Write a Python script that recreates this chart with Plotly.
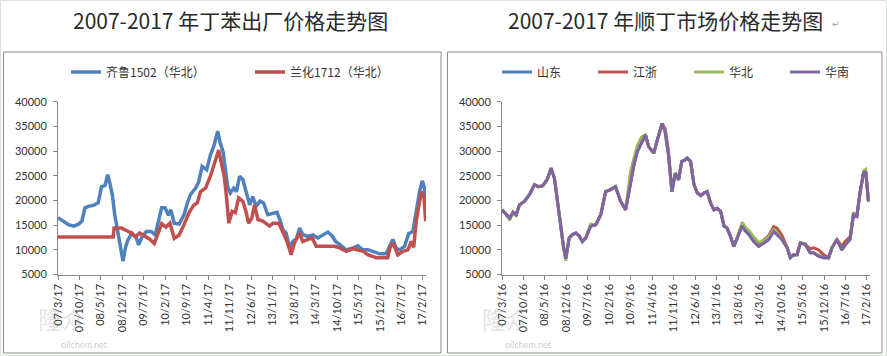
import plotly.graph_objects as go

# ---------------- data ----------------
# x values: months elapsed since 2007-03-17 (tick labels every 7 months)
TICK_M = [0, 7, 14, 21, 28, 35, 42, 49, 56, 63, 70, 77, 84, 91, 98, 105, 112, 119]
LEFT_TICKS = ["07/3/17", "07/10/17", "08/5/17", "08/12/17", "09/7/17", "10/2/17", "10/9/17",
              "11/4/17", "11/11/17", "12/6/17", "13/1/17", "13/8/17", "14/3/17", "14/10/17",
              "15/5/17", "15/12/17", "16/7/17", "17/2/17"]
RIGHT_TICKS = ["07/3/16", "07/10/16", "08/5/16", "08/12/16", "09/7/16", "10/2/16", "10/9/16",
               "11/4/16", "11/11/16", "12/6/16", "13/1/16", "13/8/16", "14/3/16", "14/10/16",
               "15/5/16", "15/12/16", "16/7/16", "17/2/16"]

# 齐鲁1502（华北）
QILU_M = [0.0, 1.3, 3.4, 5.1, 6.7, 7.8, 8.8, 9.9, 11.5, 13.1,
          14.2, 15.3, 16.2, 16.9, 17.7, 18.5, 19.6, 20.5, 21.2, 22.0,
          22.8, 24.1, 25.5, 26.3, 27.3, 28.8, 30.4, 31.7, 32.7, 33.8,
          34.9, 36.0, 36.8, 37.9, 39.5, 41.1, 42.2, 43.2, 44.9, 45.9,
          47.0, 48.5, 49.7, 50.8, 52.1, 52.9, 53.8, 54.6, 55.4, 56.2,
          57.3, 58.2, 59.2, 60.3, 61.4, 62.5, 63.5, 64.6, 65.9, 67.0,
          68.4, 70.1, 71.4, 72.5, 73.3, 74.4, 75.5, 76.6, 77.7, 78.8,
          79.8, 81.5, 83.1, 84.7, 86.4, 88.0, 89.4, 90.5, 91.8, 94.0,
          96.2, 97.8, 99.4, 101.0, 102.7, 104.8, 107.0, 108.3, 109.2, 110.3,
          111.4, 113.0, 114.4, 115.7, 116.8, 117.9, 118.8, 119.5, 119.9]
QILU_V = [16500, 16000, 15100, 14800, 15200, 15800, 18500, 18800, 19000, 19500,
          22800, 23000, 25200, 23500, 21200, 17100, 13000, 9700, 7700, 10500,
          12000, 13400, 12500, 11000, 12500, 13700, 13700, 13000, 15500, 18500,
          18500, 17000, 18100, 15400, 15200, 17100, 19500, 21200, 22500, 23800,
          26900, 26200, 29200, 31000, 34000, 31600, 30000, 25900, 22500, 21500,
          22500, 21800, 24900, 24200, 21800, 19100, 20800, 18800, 19900, 19500,
          17100, 17400, 17600, 15800, 14100, 13400, 10400, 11700, 12200, 14400,
          13100, 12700, 13000, 12400, 13000, 13600, 12800, 11700, 11100, 10000,
          10400, 10800, 10000, 10000, 9700, 9200, 9200, 10700, 12100, 10300,
          10000, 10700, 13300, 13700, 17800, 21800, 24000, 22500, 20500]

# 兰化1712（华北）
LANHUA_M = [0.0, 18.0, 18.3, 20.7, 22.3, 23.9, 25.2, 26.6, 28.2, 29.8,
            31.4, 32.5, 33.8, 35.2, 36.5, 37.9, 39.5, 41.1, 42.7, 44.2,
            45.4, 46.5, 48.1, 49.7, 51.4, 52.4, 53.3, 54.3, 54.9, 55.7,
            56.8, 57.8, 58.9, 60.3, 61.4, 62.1, 63.2, 64.1, 65.2, 66.8,
            69.0, 70.1, 72.0, 73.0, 74.2, 75.2, 76.0, 77.1, 78.8, 79.8,
            81.5, 82.9, 84.2, 90.2, 91.8, 94.0, 96.2, 98.3, 99.6, 101.0,
            103.8, 107.5, 108.3, 109.2, 110.8, 112.5, 114.1, 115.2, 116.0, 116.8,
            118.5, 119.3, 119.9]
LANHUA_V = [12600, 12600, 14400, 14400, 13900, 13400, 12600, 13400, 12800, 12200,
            11300, 13000, 15300, 14600, 15400, 12300, 13000, 15100, 17500, 19000,
            19500, 21800, 22500, 24900, 28200, 30200, 27500, 24500, 21000, 15400,
            17800, 17500, 20500, 19800, 17500, 15400, 16400, 19100, 16100, 15800,
            14800, 15400, 15400, 14100, 12400, 10700, 9000, 11400, 13400, 11700,
            12000, 12400, 10700, 10700, 10400, 9700, 10200, 10000, 9700, 9000,
            8400, 8400, 10500, 11400, 9000, 9700, 10000, 11700, 10500, 15800,
            21800, 21000, 15800]

# 顺丁 market prices (shared x positions)
RIGHT_M = [0.0, 1.1, 2.5, 3.6, 4.6, 5.7, 7.3, 9.0, 10.6, 11.9,
           13.3, 14.7, 16.0, 17.1, 18.1, 19.2, 20.1, 20.8, 21.9, 23.0,
           24.1, 25.2, 26.2, 27.3, 28.9, 30.6, 32.2, 33.8, 35.4, 37.0,
           38.7, 40.3, 41.9, 43.0, 44.1, 45.4, 46.8, 47.8, 49.5, 50.5,
           52.2, 53.2, 54.3, 55.4, 56.5, 57.6, 58.6, 59.7,
           60.4, 61.5, 62.6, 63.7, 64.8, 65.8, 66.9, 68.0, 69.1, 70.2,
           71.3, 72.4, 73.4, 74.5, 75.6, 76.7, 78.3, 79.4, 80.5, 82.1,
           83.7, 85.4, 87.0, 88.6, 89.7, 91.3, 93.0, 94.0, 95.1, 96.2,
           97.3, 98.9, 100.5, 101.6, 103.2, 104.9, 106.5, 107.6, 109.2, 110.8,
           111.9, 113.5, 114.6, 115.7, 116.8, 117.9, 118.6, 119.5]

SHANDONG = [18100, 17400, 16400, 17600, 17100, 19100, 19800, 21200, 23200, 22800,
            23000, 24200, 26500, 24500, 19800, 14400, 10400, 8200, 12400, 13100,
            13400, 12800, 11700, 12400, 14800, 15100, 17100, 21800, 22200, 22800,
            19800, 18100, 23200, 27200, 29900, 31600, 33300, 30900, 29600, 31900,
            35600, 33900, 29200, 21800, 25500, 24200, 27900, 28200,
            28600, 27900, 23200, 21500, 21000, 21500, 21800, 19500, 18100, 18400,
            17800, 14800, 14400, 12700, 10700, 12400, 15000, 13800, 13100, 11700,
            10700, 11400, 12100, 13900, 13100, 12100, 10400, 8400, 9000, 9000,
            11400, 11100, 9400, 9400, 8700, 8400, 8400, 10400, 12100, 10000,
            11000, 12100, 17100, 16800, 21800, 25500, 25900, 19800]

JIANGZHE = [18100, 17400, 16400, 17600, 17100, 19100, 19800, 21200, 23200, 22800,
            23000, 24200, 26500, 24500, 19800, 14400, 10400, 8200, 12400, 13100,
            13400, 12800, 11700, 12400, 14800, 15100, 17100, 21800, 22200, 22800,
            19800, 18100, 23200, 27200, 29900, 31600, 33300, 30900, 29600, 31900,
            35600, 34500, 30000, 21800, 25500, 24200, 27900, 28200,
            28600, 27900, 23200, 21500, 21000, 21500, 21800, 19500, 18100, 18400,
            17800, 14800, 14400, 12700, 10700, 12400, 15200, 14300, 13700, 12300,
            11200, 12000, 12900, 14700, 14400, 12900, 10400, 8400, 9000, 9000,
            11400, 11100, 10200, 10400, 10000, 9000, 8400, 10400, 12100, 10700,
            11700, 12600, 17100, 16800, 21800, 25500, 25900, 19800]

HUABEI = [18100, 17400, 16000, 17600, 16800, 19100, 19800, 21200, 23200, 22800,
          23000, 24200, 26500, 24500, 19800, 14400, 10400, 7800, 12400, 13100,
          13400, 12800, 11700, 12400, 15200, 15100, 17100, 21800, 22200, 22800,
          19800, 18100, 25800, 28500, 31000, 32800, 33300, 30900, 29600, 31900,
          35600, 33900, 29200, 21800, 25500, 24200, 27900, 28200,
          28600, 27900, 23200, 21500, 21000, 21500, 21800, 19500, 18100, 18400,
          17800, 14800, 14400, 12700, 10700, 12400, 15600, 14500, 13900, 12600,
          11500, 11900, 12600, 14100, 13500, 12100, 10400, 8400, 9000, 9000,
          11400, 11100, 9400, 9400, 9000, 8400, 8400, 10400, 12100, 10000,
          11000, 12100, 17600, 16800, 21800, 26000, 26300, 19800]

HUANAN = [18100, 17400, 16400, 17600, 17100, 19100, 19800, 21200, 23200, 22800,
          23000, 24200, 26500, 24500, 19800, 14400, 10400, 8200, 12400, 13100,
          13400, 12800, 11700, 12400, 14800, 15100, 17100, 21800, 22200, 22800,
          19800, 18100, 23200, 27200, 29900, 31600, 33300, 30900, 29600, 31900,
          35600, 33900, 29200, 21800, 25500, 24200, 27900, 28200,
          28600, 27900, 23200, 21500, 21000, 21500, 21800, 19500, 18100, 18400,
          17800, 14800, 14400, 12700, 10700, 12400, 14800, 13800, 13100, 11700,
          10700, 11400, 12100, 13700, 13100, 12100, 10400, 8400, 9000, 9000,
          11400, 11100, 9400, 9400, 8700, 8400, 8400, 10400, 12100, 10000,
          11000, 12100, 17100, 16800, 21800, 25500, 25900, 19800]

TITLE_LEFT = "2007-2017 年丁苯出厂价格走势图"
TITLE_RIGHT = "2007-2017 年顺丁市场价格走势图"

# ---------------- styling ----------------
W, H = 887, 356
def px(x):
    return x / W
def py(y):
    return 1 - y / H

BLUE, RED, GREEN, PURPLE = "#4F81BD", "#C0504D", "#9BBB59", "#8064A2"
CJK = "Noto Sans CJK SC"
TICKFONT = dict(family="Lato, sans-serif", size=11, color="#333333")

fig = go.Figure()

fig.add_trace(go.Scatter(x=QILU_M, y=QILU_V, mode="lines", name="齐鲁1502（华北）",
                         line=dict(color=BLUE, width=3.5), xaxis="x", yaxis="y", legend="legend"))
fig.add_trace(go.Scatter(x=LANHUA_M, y=LANHUA_V, mode="lines", name="兰化1712（华北）",
                         line=dict(color=RED, width=3.5), xaxis="x", yaxis="y", legend="legend"))

for name, vals, col in [("山东", SHANDONG, BLUE), ("江浙", JIANGZHE, RED),
                        ("华北", HUABEI, GREEN), ("华南", HUANAN, PURPLE)]:
    fig.add_trace(go.Scatter(x=RIGHT_M, y=vals, mode="lines", name=name,
                             line=dict(color=col, width=3), xaxis="x2", yaxis="y2",
                             legend="legend2"))

axis_common = dict(showgrid=False, zeroline=False, showline=True, linecolor="#868686",
                   linewidth=1, ticks="outside", ticklen=4, tickcolor="#868686",
                   tickfont=TICKFONT)
ydom = [py(274.5), py(101.7)]

fig.update_layout(
    width=W, height=H, margin=dict(l=0, r=0, t=0, b=0, autoexpand=False),
    paper_bgcolor="white", plot_bgcolor="white",
    showlegend=True,
    xaxis=dict(domain=[px(58), px(426)], range=[0, 120], tickmode="array", tickvals=TICK_M,
               ticktext=LEFT_TICKS, tickangle=-90, anchor="y", **axis_common),
    yaxis=dict(domain=ydom, range=[5000, 40000], tick0=5000, dtick=5000, tickformat="d",
               anchor="x", ticklabelstandoff=4, **axis_common),
    xaxis2=dict(domain=[px(502), px(870)], range=[0, 120], tickmode="array", tickvals=TICK_M,
                ticktext=RIGHT_TICKS, tickangle=-90, anchor="y2", **axis_common),
    yaxis2=dict(domain=ydom, range=[5000, 40000], tick0=5000, dtick=5000, tickformat="d",
                anchor="x2", ticklabelstandoff=4, **axis_common),
    legend=dict(x=px(66), y=py(72), xanchor="left", yanchor="middle", orientation="h",
                entrywidth=139, entrywidthmode="pixels", itemwidth=30,
                font=dict(family=CJK, size=12, color="#333333"), bgcolor="rgba(0,0,0,0)"),
    legend2=dict(x=px(497), y=py(72), xanchor="left", yanchor="middle", orientation="h",
                 entrywidth=51, entrywidthmode="pixels", itemwidth=30,
                 font=dict(family=CJK, size=12, color="#333333"), bgcolor="rgba(0,0,0,0)"),
)

shapes = [
    dict(type="rect", xref="paper", yref="paper", x0=px(0.5), x1=px(886.5), y0=py(355.5), y1=py(0.5),
         line=dict(color="#d6e2da", width=1)),
    dict(type="rect", xref="paper", yref="paper", x0=px(3.5), x1=px(441), y0=py(353), y1=py(52),
         line=dict(color="#8c8c8c", width=1)),
    dict(type="rect", xref="paper", yref="paper", x0=px(447.5), x1=px(882), y0=py(353), y1=py(52),
         line=dict(color="#8c8c8c", width=1)),
]
fig.update_layout(shapes=shapes)

ann = [
    dict(text=TITLE_LEFT, x=px(231), y=py(20), xanchor="center", yanchor="middle",
         xref="paper", yref="paper", showarrow=False,
         font=dict(family=CJK, size=21, color="#2a2a2a")),
    dict(text=TITLE_RIGHT, x=px(665), y=py(20), xanchor="center", yanchor="middle",
         xref="paper", yref="paper", showarrow=False,
         font=dict(family=CJK, size=21, color="#2a2a2a")),
    dict(text="↵", x=px(836), y=py(24), xanchor="center", yanchor="middle",
         xref="paper", yref="paper", showarrow=False,
         font=dict(family="DejaVu Sans", size=9, color="#999999")),
]
for cx in (62, 506):
    ann.append(dict(text="隆众", x=px(cx), y=py(318), xanchor="center", yanchor="middle",
                    xref="paper", yref="paper", showarrow=False,
                    font=dict(family=CJK, size=24, color="rgba(160,160,160,0.3)")))
    ann.append(dict(text="oilchem.net", x=px(cx + 22), y=py(344), xanchor="center",
                    yanchor="middle", xref="paper", yref="paper", showarrow=False,
                    font=dict(family="Lato, sans-serif", size=9, color="rgba(150,150,150,0.5)")))
fig.update_layout(annotations=ann)

fig.write_html("out.html", config={"displayModeBar": False},
               post_script="document.body.style.margin='0px';")
